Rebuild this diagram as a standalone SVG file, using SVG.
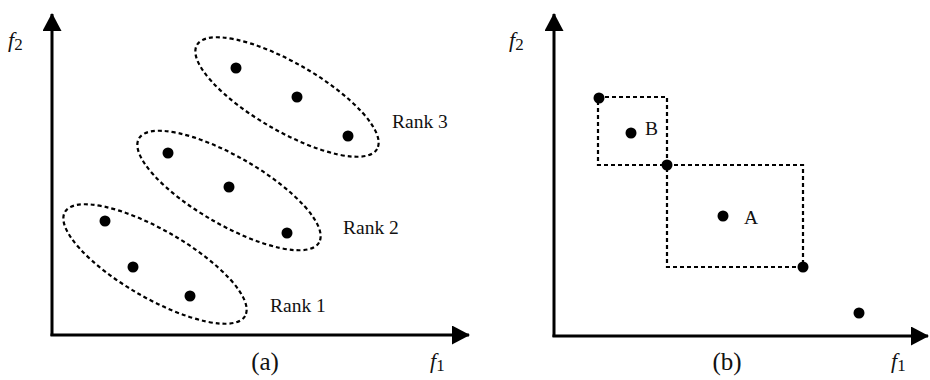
<svg xmlns="http://www.w3.org/2000/svg" width="930" height="380" viewBox="0 0 930 380">
<defs>
<style>
.axis{stroke:#000;stroke-width:3;fill:none}
.dash{stroke:#000;stroke-width:2.2;stroke-dasharray:4 3;fill:none}
.dot{fill:#000}
.t{font-family:"Liberation Serif","Times New Roman",serif;fill:#111}
.lbl{font-size:19.5px}
.cap{font-size:25px}
.fi{font-size:22px;font-style:italic}
.sub{font-size:17px;font-style:normal}
</style>
<marker id="ah" viewBox="0 0 18 19" refX="17" refY="9.5" markerWidth="18" markerHeight="19" markerUnits="userSpaceOnUse" orient="auto">
<path d="M0,0 L18,9.5 L0,19 Z" fill="#000"/>
</marker>
</defs>
<g id="panel-a">
<g id="axes-a">
<line class="axis" x1="52" y1="336" x2="52" y2="14" marker-end="url(#ah)"/>
<line class="axis" x1="50.5" y1="335" x2="469" y2="335" marker-end="url(#ah)"/>
</g>
<g id="rank3">
<ellipse class="dash" cx="287" cy="97" rx="104" ry="34" transform="rotate(30 287 97)"/>
<circle class="dot" cx="236" cy="68" r="5.5"/>
<circle class="dot" cx="297" cy="97" r="5.5"/>
<circle class="dot" cx="348" cy="136" r="5.5"/>
<text class="t lbl" x="392" y="128">Rank 3</text>
</g>
<g id="rank2">
<ellipse class="dash" cx="229" cy="190.5" rx="104" ry="34" transform="rotate(30 229 190.5)"/>
<circle class="dot" cx="168" cy="153" r="5.5"/>
<circle class="dot" cx="229" cy="187" r="5.5"/>
<circle class="dot" cx="287" cy="233" r="5.5"/>
<text class="t lbl" x="343" y="234">Rank 2</text>
</g>
<g id="rank1">
<ellipse class="dash" cx="155" cy="264" rx="104" ry="34" transform="rotate(30 155 264)"/>
<circle class="dot" cx="105" cy="221" r="5.5"/>
<circle class="dot" cx="133" cy="267" r="5.5"/>
<circle class="dot" cx="190" cy="296" r="5.5"/>
<text class="t lbl" x="270" y="312">Rank 1</text>
</g>
<text class="t fi" x="8" y="47">f<tspan class="sub" dy="3">2</tspan></text>
<text class="t fi" x="430" y="368">f<tspan class="sub" dy="3">1</tspan></text>
<text class="t cap" x="265" y="370" text-anchor="middle">(a)</text>
</g>
<g id="panel-b">
<g id="axes-b">
<line class="axis" x1="554" y1="337" x2="554" y2="14" marker-end="url(#ah)"/>
<line class="axis" x1="552.5" y1="336" x2="928" y2="336" marker-end="url(#ah)"/>
</g>
<g id="box-B">
<rect class="dash" x="598" y="97" width="69" height="68"/>
<circle class="dot" cx="631" cy="133" r="5.5"/>
<text class="t lbl" x="645" y="135">B</text>
</g>
<g id="box-A">
<rect class="dash" x="667" y="165" width="136" height="102"/>
<circle class="dot" cx="723" cy="216" r="5.5"/>
<text class="t lbl" x="744" y="224">A</text>
</g>
<circle class="dot" cx="599" cy="98" r="5.5"/>
<circle class="dot" cx="667" cy="165" r="5.5"/>
<circle class="dot" cx="803" cy="267" r="5.5"/>
<circle class="dot" cx="859" cy="313" r="5.5"/>
<text class="t fi" x="509" y="47">f<tspan class="sub" dy="3">2</tspan></text>
<text class="t fi" x="891" y="368">f<tspan class="sub" dy="3">1</tspan></text>
<text class="t cap" x="727" y="370" text-anchor="middle">(b)</text>
</g>
</svg>
